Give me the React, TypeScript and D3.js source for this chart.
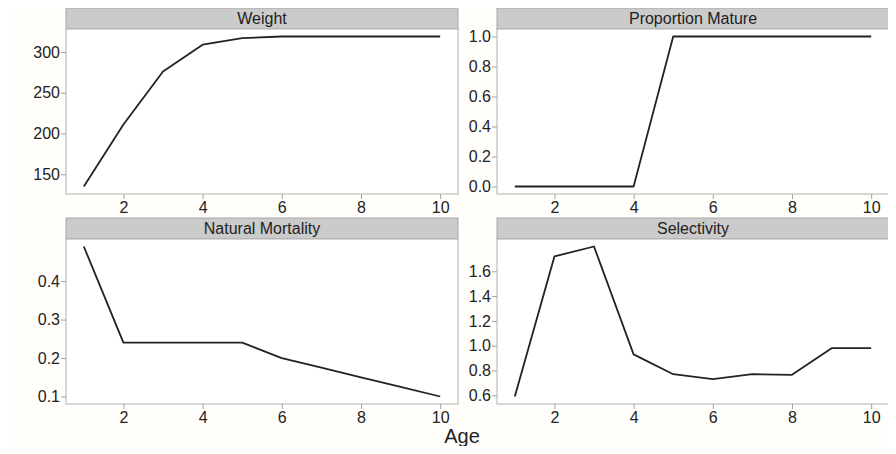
import React, { useRef, useEffect } from 'react'
import { select, scaleLinear, axisLeft, axisBottom, line, extent, format } from 'd3'

// data
const ages = [1, 2, 3, 4, 5, 6, 7, 8, 9, 10]
const weight = [135, 211, 276, 309, 317, 319, 319, 319, 319, 319]
const proportionMature = [0, 0, 0, 0, 1, 1, 1, 1, 1, 1]
const naturalMortality = [0.49, 0.24, 0.24, 0.24, 0.24, 0.2, 0.175, 0.15, 0.125, 0.1]
const selectivity = [0.59, 1.72, 1.8, 0.93, 0.77, 0.73, 0.77, 0.765, 0.98, 0.98]

const panelTitles = ['Weight', 'Proportion Mature', 'Natural Mortality', 'Selectivity']
const ageTicks = [2, 4, 6, 8, 10]
const weightTicks = [150, 200, 250, 300]
const matureTicks = [0, 0.2, 0.4, 0.6, 0.8, 1.0]
const mortalityTicks = [0.1, 0.2, 0.3, 0.4]
const selectivityTicks = [0.6, 0.8, 1.0, 1.2, 1.4, 1.6]
const xLabel = 'Age'

const width = 896
const height = 454
const font = '"Liberation Sans", Arial, Helvetica, sans-serif'

function padded(values) {
	const [lo, hi] = extent(values)
	const pad = (hi - lo) * 0.05
	return [lo - pad, hi + pad]
}

function App() {
	const svgRef = useRef()

	useEffect(() => {
		const svg = select(svgRef.current)
		svg.selectAll('*').remove()

		svg
			.append('rect')
			.attr('width', width)
			.attr('height', height)
			.attr('fill', '#fffefa')
		svg
			.append('rect')
			.attr('x', 1.5)
			.attr('y', 1.5)
			.attr('width', width - 3)
			.attr('height', height - 3)
			.attr('fill', 'none')
			.attr('stroke', '#f6f2e0')
			.attr('stroke-width', 3)

		const panels = [
			{ title: panelTitles[0], values: weight, ticks: weightTicks, fmt: format('d'), col: 0, row: 0 },
			{ title: panelTitles[1], values: proportionMature, ticks: matureTicks, fmt: format('.1f'), col: 1, row: 0 },
			{ title: panelTitles[2], values: naturalMortality, ticks: mortalityTicks, fmt: format('.1f'), col: 0, row: 1 },
			{ title: panelTitles[3], values: selectivity, ticks: selectivityTicks, fmt: format('.1f'), col: 1, row: 1 },
		]

		const colX = [66, 497]
		const rowY = [8, 218]
		const panelW = 392
		const stripH = 21
		const plotH = 165

		panels.forEach((p) => {
			const left = colX[p.col]
			const stripTop = rowY[p.row]
			const top = stripTop + stripH
			const g = svg.append('g')

			const x = scaleLinear().domain(padded(ages)).range([left, left + panelW])
			const y = scaleLinear().domain(padded(p.values)).range([top + plotH, top])

			// strip
			g.append('rect')
				.attr('x', left)
				.attr('y', stripTop)
				.attr('width', panelW)
				.attr('height', stripH)
				.attr('fill', '#cbcbcb')
				.attr('stroke', '#a8a8a8')
				.attr('stroke-width', 1)
			g.append('text')
				.attr('x', left + panelW / 2)
				.attr('y', stripTop + stripH / 2 + 5.7)
				.attr('text-anchor', 'middle')
				.attr('font-family', font)
				.attr('font-size', 16)
				.attr('fill', '#222')
				.text(p.title)

			// plot frame
			g.append('rect')
				.attr('x', left)
				.attr('y', top)
				.attr('width', panelW)
				.attr('height', plotH)
				.attr('fill', '#fff')
				.attr('stroke', '#b0b0b0')
				.attr('stroke-width', 1)

			const xAxis = axisBottom(x).tickValues(ageTicks).tickSize(5).tickPadding(3)
			const xg = g.append('g').attr('transform', `translate(0,${top + plotH})`).call(xAxis)

			const yAxis = axisLeft(y).tickValues(p.ticks).tickFormat(p.fmt).tickSize(5).tickPadding(1)
			const yg = g.append('g').attr('transform', `translate(${left},0)`).call(yAxis)

			;[xg, yg].forEach((ax) => {
				ax.select('.domain').remove()
				ax.selectAll('line').attr('stroke', '#a0a0a0')
				ax.selectAll('text')
					.attr('font-family', font)
					.attr('font-size', 16)
					.attr('fill', '#222')
			})

			const path = line()
				.x((d, i) => x(ages[i]))
				.y((d) => y(d))
			g.append('path')
				.datum(p.values)
				.attr('d', path)
				.attr('fill', 'none')
				.attr('stroke', '#222')
				.attr('stroke-width', 1.8)
				.attr('stroke-linejoin', 'round')
		})

		svg
			.append('text')
			.attr('x', 462)
			.attr('y', 443)
			.attr('text-anchor', 'middle')
			.attr('font-family', font)
			.attr('font-size', 20)
			.attr('fill', '#222')
			.text(xLabel)
	}, [])

	return (
		<div style={{ margin: -8 }}>
			<svg ref={svgRef} width={width} height={height} style={{ display: 'block' }}></svg>
		</div>
	)
}

export default App
